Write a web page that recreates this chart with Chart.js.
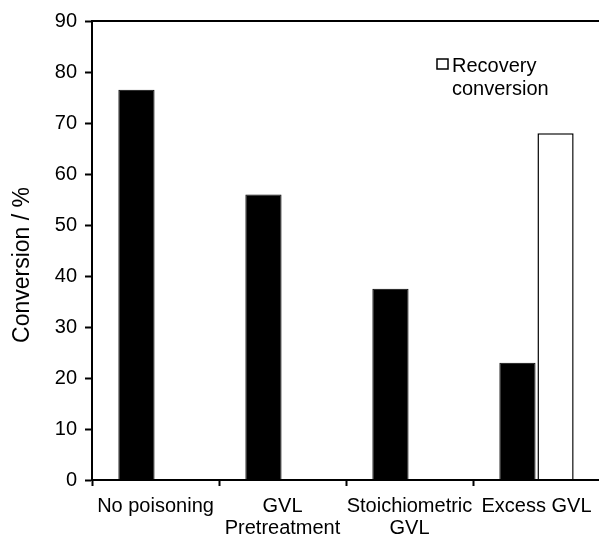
<!DOCTYPE html>
<html>
<head>
<meta charset="utf-8">
<script src="https://cdn.jsdelivr.net/npm/chart.js@4/dist/chart.umd.min.js"></script>
<style>
  html, body { margin: 0; padding: 0; background: #fff; overflow: hidden; }
  #wrap { width: 602px; height: 534px; }
</style>
</head>
<body>
<div id="wrap"><canvas id="chart" width="602" height="534"></canvas></div>
<script>
// data
const categories = ["No poisoning", ["GVL", "Pretreatment"], ["Stoichiometric", "GVL"], "Excess GVL"];
const conversion = [76.5, 56, 37.5, 23];
const recovery = [null, null, null, 68];
const yTicks = [0, 10, 20, 30, 40, 50, 60, 70, 80, 90];

const FONT = "'Liberation Sans', Arial, sans-serif";

// frame round the plot, y title and the two-line legend
const framePlugin = {
  id: "frame",
  afterDraw(chart) {
    const { ctx, chartArea: a } = chart;
    ctx.save();
    ctx.strokeStyle = "#000";
    ctx.lineWidth = 2;
    ctx.strokeRect(a.left, a.top, a.right - a.left, a.bottom - a.top);

    // y axis title, sits a bit below the middle in the original
    ctx.save();
    ctx.translate(23, 265);
    ctx.rotate(-Math.PI / 2);
    ctx.fillStyle = "#000";
    ctx.font = "23px " + FONT;
    ctx.textAlign = "center";
    ctx.textBaseline = "middle";
    ctx.fillText("Conversion / %", 0, 0);
    ctx.restore();

    // legend
    const bx = a.left + 345, by = a.top + 38;
    ctx.fillStyle = "#fff";
    ctx.fillRect(bx, by, 11, 10);
    ctx.lineWidth = 1.5;
    ctx.strokeRect(bx, by, 11, 10);
    ctx.fillStyle = "#000";
    ctx.font = "20px " + FONT;
    ctx.textBaseline = "alphabetic";
    ctx.fillText("Recovery", bx + 15, a.top + 51);
    ctx.fillText("conversion", bx + 15, a.top + 74);
    ctx.restore();
  },
};

new Chart(document.getElementById("chart"), {
  type: "bar",
  data: {
    labels: categories,
    datasets: [
      {
        label: "Conversion",
        data: conversion,
        backgroundColor: "#000",
        borderColor: "#000",
        borderWidth: 1,
        categoryPercentage: 0.6,
        barPercentage: 0.95,
      },
      {
        label: "Recovery conversion",
        data: recovery,
        backgroundColor: "#fff",
        borderColor: "#000",
        borderWidth: 1.5,
        categoryPercentage: 0.6,
        barPercentage: 0.95,
      },
    ],
  },
  options: {
    responsive: false,
    animation: false,
    layout: { padding: { top: 21, right: 2, left: 0, bottom: 0 } },
    plugins: {
      legend: { display: false },
      tooltip: { enabled: false },
    },
    scales: {
      x: {
        offset: true,
        grid: {
          offset: true,
          drawOnChartArea: false,
          drawTicks: true,
          tickLength: 6,
          tickWidth: 2,
          color: "#000",
        },
        border: { display: true, color: "#000", width: 2 },
        ticks: {
          color: "#000",
          font: { family: FONT, size: 20, lineHeight: 1.1 },
          padding: 9,
          maxRotation: 0,
          autoSkip: false,
        },
        afterFit(scale) {
          scale.height = 54;
        },
      },
      y: {
        min: 0,
        max: 90,
        afterBuildTicks(scale) {
          scale.ticks = yTicks.map((v) => ({ value: v }));
        },
        grid: {
          drawOnChartArea: false,
          drawTicks: true,
          tickLength: 7,
          tickWidth: 2,
          color: "#000",
        },
        border: { display: true, color: "#000", width: 2 },
        ticks: {
          color: "#000",
          font: { family: FONT, size: 20 },
          padding: 8,
        },
        afterFit(scale) {
          scale.width = 92;
        },
      },
    },
  },
  plugins: [framePlugin],
});
</script>
</body>
</html>
